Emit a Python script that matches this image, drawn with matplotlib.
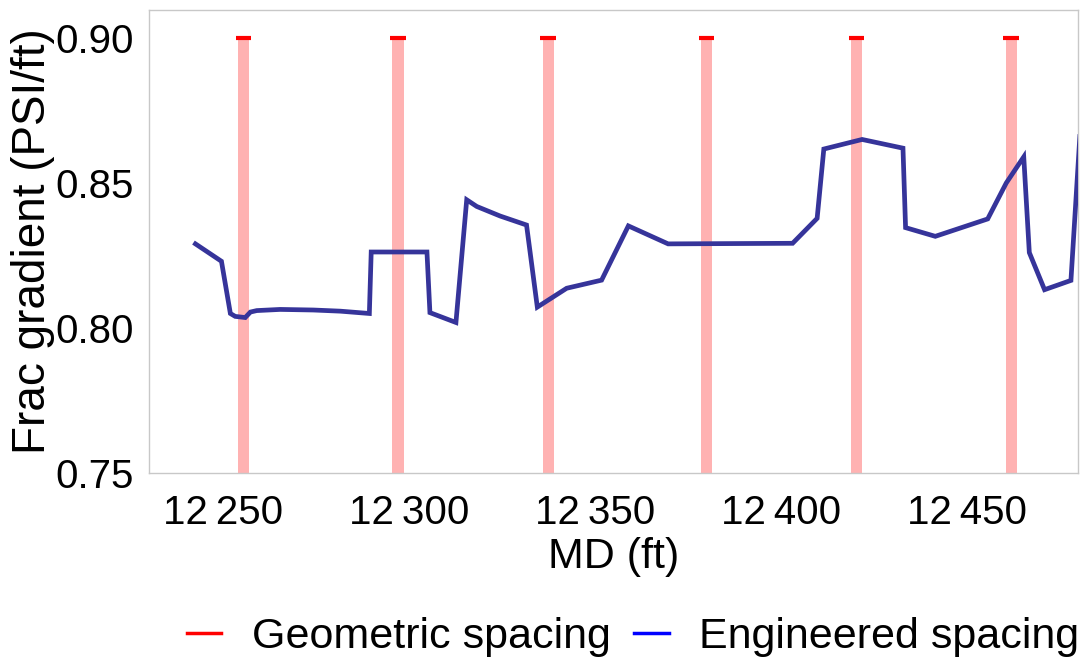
import matplotlib
matplotlib.use("Agg")
import matplotlib.pyplot as plt
from matplotlib.ticker import FuncFormatter, FixedLocator
from matplotlib.lines import Line2D

plt.rcParams['font.family'] = ['Liberation Sans', 'DejaVu Sans']

# measured depth (ft) and frac gradient (psi/ft) along the lateral
md = [12242.5, 12249.5, 12251.9, 12253.2, 12255.9, 12257.3, 12259.0, 12265.3,
      12274.2, 12281.5, 12289.3, 12289.8, 12304.8, 12305.6, 12312.6, 12315.5,
      12318.2, 12324.5, 12331.6, 12334.5, 12342.4, 12351.8, 12359.0, 12369.7,
      12403.2, 12409.8, 12411.6, 12421.9, 12432.9, 12433.6, 12441.6, 12455.7,
      12460.7, 12465.4, 12466.9, 12471.0, 12478.1, 12480.5]
frac_grad = [0.829, 0.823, 0.805, 0.804, 0.8036, 0.8055, 0.806, 0.8064,
             0.8062, 0.8058, 0.805, 0.8262, 0.8262, 0.8053, 0.8019, 0.8442,
             0.8419, 0.8386, 0.8355, 0.8072, 0.8137, 0.8165, 0.8352, 0.829,
             0.8292, 0.8378, 0.8617, 0.865, 0.862, 0.8346, 0.8316, 0.8376,
             0.850, 0.859, 0.826, 0.8132, 0.8164, 0.866]

# evenly spaced (geometric) cluster positions
geo_md = [12255.4, 12297.0, 12337.4, 12380.0, 12420.4, 12462.0]
geo_level = 0.90

x_ticks = [12250, 12300, 12350, 12400, 12450]
y_ticks = [0.75, 0.80, 0.85, 0.90]

fig = plt.figure(figsize=(10.82, 6.61), dpi=100)
ax = fig.add_axes([0.1377, 0.2844, 0.8586, 0.7012])

# pink stems up to the cluster level, with a red cap on top
ax.bar(geo_md, [geo_level] * len(geo_md), width=3.0, bottom=0,
       color='red', alpha=0.3, linewidth=0, zorder=1)
ax.hlines([geo_level] * len(geo_md), [m - 2.1 for m in geo_md],
          [m + 2.1 for m in geo_md], color='red', lw=3, zorder=2)

ax.plot(md, frac_grad, color='#36349a', lw=3.4, solid_joinstyle='miter',
        zorder=3)

ax.set_xlim(12230, 12480)
ax.set_ylim(0.75, 0.9098)

ax.xaxis.set_major_locator(FixedLocator(x_ticks))
ax.yaxis.set_major_locator(FixedLocator(y_ticks))
ax.xaxis.set_major_formatter(
    FuncFormatter(lambda v, p: f"{v:,.0f}".replace(",", "\u2009")))
ax.yaxis.set_major_formatter(FuncFormatter(lambda v, p: f"{v:.2f}"))
ax.tick_params(axis='both', length=0, labelsize=29)
ax.tick_params(axis='x', pad=15)
ax.tick_params(axis='y', pad=11)

for sp in ax.spines.values():
    sp.set_color('#c8c8c8')
    sp.set_linewidth(1.0)

ax.set_xlabel('MD (ft)', fontsize=31, labelpad=4)
ax.set_ylabel('Frac gradient (PSI/ft)', fontsize=33, labelpad=0)

handles = [Line2D([], [], color='red', lw=2.5),
           Line2D([], [], color='blue', lw=2.5)]
fig.legend(handles, ['Geometric spacing', 'Engineered spacing'],
           loc='center', bbox_to_anchor=(0.585, 0.036), ncol=2,
           frameon=False, fontsize=31, handlelength=0.8, handletextpad=0.7,
           columnspacing=0.55)

fig.savefig('out.png', dpi=100)
